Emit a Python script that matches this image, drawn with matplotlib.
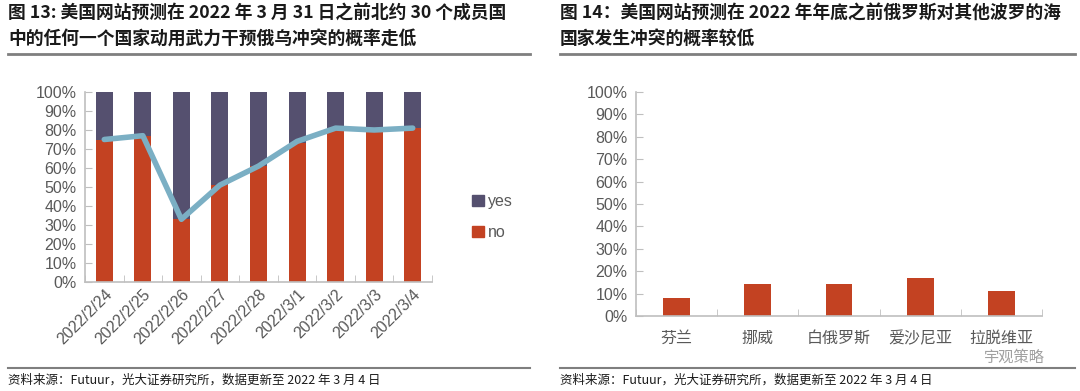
import numpy as np
import matplotlib
matplotlib.use("Agg")
import matplotlib.pyplot as plt
from matplotlib.lines import Line2D

plt.rcParams['font.family'] = ['Liberation Sans', 'Noto Sans CJK SC', 'DejaVu Sans']

# --- data ---
dates = ['2022/2/24', '2022/2/25', '2022/2/26', '2022/2/27', '2022/2/28',
         '2022/3/1', '2022/3/2', '2022/3/3', '2022/3/4']
no_vals = [0.75, 0.77, 0.33, 0.51, 0.61, 0.73, 0.81, 0.80, 0.81]
line_vals = [0.75, 0.77, 0.33, 0.51, 0.61, 0.74, 0.81, 0.80, 0.81]

countries = ['芬兰', '挪威', '白俄罗斯', '爱沙尼亚', '拉脱维亚']
conflict_prob = [0.08, 0.144, 0.144, 0.171, 0.112]

title_left = ['图 13: 美国网站预测在 2022 年 3 月 31 日之前北约 30 个成员国',
              '中的任何一个国家动用武力干预俄乌冲突的概率走低']
title_right = ['图 14：美国网站预测在 2022 年年底之前俄罗斯对其他波罗的海',
               '国家发生冲突的概率较低']
source = '资料来源：Futuur，光大证券研究所，数据更新至 2022 年 3 月 4 日'

C_YES = '#55506F'
C_NO = '#C34222'
C_LINE = '#7BAFC4'
C_TXT = '#595959'
C_AX = '#BFBFBF'

W, H = 1080, 391
fig = plt.figure(figsize=(W / 100, H / 100), dpi=100)


def px(x0, y0, x1, y1):
    # pixel box (top-left origin) -> figure fraction rect
    return [x0 / W, 1 - y1 / H, (x1 - x0) / W, (y1 - y0) / H]


def style_axis(ax, n):
    for s in ['top', 'right']:
        ax.spines[s].set_visible(False)
    for s in ['left', 'bottom']:
        ax.spines[s].set_color(C_AX)
        ax.spines[s].set_linewidth(1.2)
    ax.set_ylim(0, 1)
    ax.set_xlim(-0.5, n - 0.5)
    ax.set_yticks(np.arange(0, 1.01, 0.1))
    ax.set_yticklabels([f'{int(round(v * 100))}%' for v in np.arange(0, 1.01, 0.1)])
    ax.tick_params(axis='y', direction='in', length=5, color=C_AX, labelsize=11.5,
                   labelcolor=C_TXT, pad=6)
    ax.set_xticks(np.arange(n))
    ax.set_xticks(np.arange(-0.5, n, 1.0), minor=True)
    ax.tick_params(axis='x', which='major', length=0, labelcolor=C_TXT)
    ax.tick_params(axis='x', which='minor', direction='in', length=5, color=C_AX)


# --- left chart ---
ax1 = fig.add_axes(px(85, 92, 432, 282))
x = np.arange(len(dates))
yes_vals = [1 - v for v in no_vals]
ax1.bar(x, no_vals, width=0.44, color=C_NO, zorder=2)
ax1.bar(x, yes_vals, bottom=no_vals, width=0.44, color=C_YES, zorder=2)
ax1.plot(x, line_vals, color=C_LINE, lw=4, solid_joinstyle='round',
         solid_capstyle='round', zorder=3)

style_axis(ax1, len(dates))
ax1.set_xticklabels(dates, rotation=45, ha='right', rotation_mode='anchor', fontsize=11.5)

handles = [plt.Rectangle((0, 0), 1, 1, color=C_YES), plt.Rectangle((0, 0), 1, 1, color=C_NO)]
fig.legend(handles, ['yes', 'no'], loc='center left',
           bbox_to_anchor=(458 / W, 1 - 217 / H), frameon=False, fontsize=11.5,
           handlelength=0.7, handleheight=0.7, handletextpad=0.3, labelspacing=1.0,
           labelcolor=C_TXT)

# --- right chart ---
ax2 = fig.add_axes(px(636, 92, 1042, 316))
x2 = np.arange(len(countries))
ax2.bar(x2, conflict_prob, width=0.33, color=C_NO, zorder=2)
style_axis(ax2, len(countries))
ax2.set_xticklabels(countries, fontsize=11.5, family=['Noto Sans CJK SC'])
ax2.tick_params(axis='x', which='major', pad=10)

# watermark
fig.text(1045 / W, 1 - 357 / H, '宇观策略', fontsize=11, color='#a0a0a0',
         family=['Noto Sans CJK SC'], va='center', ha='right')

# --- titles, rules, sources ---
for x0, x1, lines in [(8, 530, title_left), (560, 1075, title_right)]:
    for k, t in enumerate(lines):
        fig.text(x0 / W, 1 - (14 + 25 * k) / H, t, fontsize=12.8, fontweight='bold',
                 color='#1a1a1a', family=['Noto Sans CJK SC'], va='center', ha='left')
    fig.add_artist(Line2D([x0 / W, x1 / W], [1 - 53.5 / H] * 2, color='#7F7F7F', lw=2))
    fig.add_artist(Line2D([x0 / W, x1 / W], [1 - 368 / H] * 2, color='#7F7F7F', lw=1.5))
    fig.text(x0 / W, 1 - 380 / H, source, fontsize=9, color='#1a1a1a',
             family=['Noto Sans CJK SC'], va='center', ha='left')

fig.savefig('out.png', dpi=100, facecolor='white')
